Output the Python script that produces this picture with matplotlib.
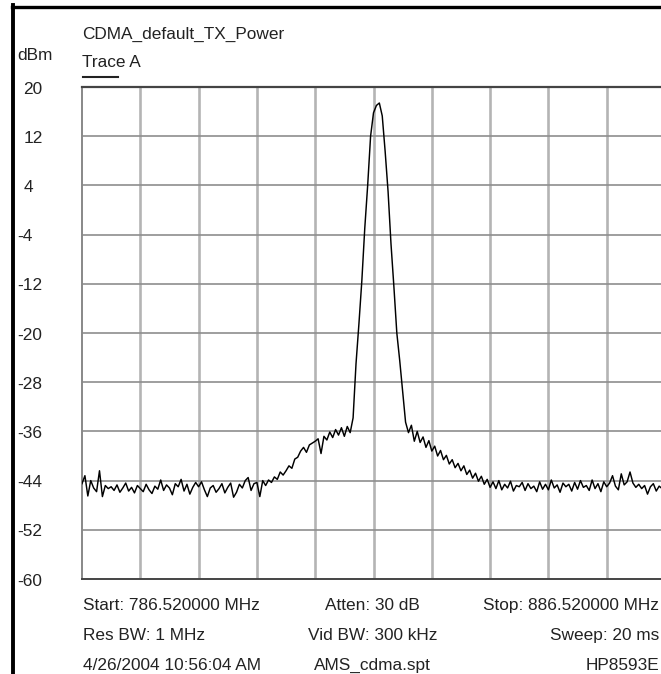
import numpy as np
import matplotlib
matplotlib.use("Agg")
import matplotlib.pyplot as plt
from matplotlib import transforms
from matplotlib.lines import Line2D

plt.rcParams['font.family'] = ['Liberation Sans', 'DejaVu Sans']

# sweep settings
start_mhz = 786.52
stop_mhz = 886.52
y_ticks = [20, 12, 4, -4, -12, -20, -28, -36, -44, -52, -60]

# trace A, dBm (evenly spaced sweep points)
trace_dbm = [
    -44.5, -43.2, -46.5, -44.0, -45.2, -45.8, -42.4, -46.6, -44.8, -45.3,
    -45.0, -45.6, -44.7, -45.9, -45.2, -44.4, -45.7, -45.1, -46.0, -44.8,
    -45.3, -45.8, -44.6, -45.5, -46.1, -44.9, -45.4, -43.9, -45.6, -44.7,
    -45.2, -46.3, -44.5, -45.0, -43.8, -45.7, -44.6, -46.2, -45.1, -44.3,
    -45.0, -44.2, -45.5, -46.6, -45.2, -44.8, -45.9, -45.3, -44.5, -46.0,
    -45.1, -44.4, -46.7, -45.9, -44.6, -45.2, -44.0, -43.5, -45.6, -44.5,
    -44.3, -46.6, -44.0, -44.8, -43.9, -44.3, -43.4, -43.8, -42.6, -43.1,
    -42.4, -41.6, -42.0, -40.5, -40.2, -39.2, -38.6, -39.4, -38.2, -37.9,
    -37.6, -37.2, -39.6, -36.8, -37.4, -36.1, -37.0, -35.7, -36.6, -35.4,
    -36.8, -35.2, -36.2, -33.8, -25.0, -18.5, -11.5, -3.0, 4.0, 12.0,
    15.8, 17.0, 17.4, 15.3, 9.5, 3.0, -5.5, -12.5, -20.0, -24.5,
    -29.5, -34.5, -36.2, -35.0, -37.6, -36.0, -37.8, -36.9, -38.6, -37.5,
    -39.2, -38.4, -40.0, -39.1, -40.6, -39.9, -41.3, -40.6, -41.9, -41.2,
    -42.4, -41.6, -43.0, -42.3, -43.6, -42.8, -44.1, -43.3, -44.6, -43.8,
    -45.1, -44.2, -45.3, -44.0, -45.5, -44.6, -45.2, -44.1, -45.7, -44.8,
    -45.0, -44.3, -45.6, -44.5, -45.3, -44.9, -45.8, -44.2, -45.4, -44.6,
    -45.5, -43.9, -45.2, -44.7, -45.9, -44.4, -45.0, -44.6, -45.7, -44.3,
    -45.4, -44.0, -45.1, -44.8, -45.6, -43.9, -45.3, -44.5, -45.8, -44.2,
    -45.0, -44.4, -43.2, -44.9, -45.5, -42.9, -44.7, -44.2, -42.6, -44.4,
    -45.1, -44.6, -45.3, -44.8, -46.2, -45.0, -44.5, -45.7, -44.9, -45.3,
    -44.7,
]

title = "CDMA_default_TX_Power"
trace_name = "Trace A"
unit = "dBm"
footer_left = ["Start: 786.520000 MHz", "Res BW: 1 MHz", "4/26/2004 10:56:04 AM"]
footer_mid = ["Atten: 30 dB", "Vid BW: 300 kHz", "AMS_cdma.spt"]
footer_right = ["Stop: 886.520000 MHz", "Sweep: 20 ms", "HP8593E"]

W, H = 661, 674
fig = plt.figure(figsize=(W / 100, H / 100), dpi=100)

def fx(px):
    return px / W

def fy(px):
    return 1 - px / H

# plot area
ax = fig.add_axes([fx(82), fy(579), fx(583), (579 - 87) / H])
freqs = np.linspace(start_mhz, stop_mhz, len(trace_dbm))
ax.plot(freqs, trace_dbm, color='black', lw=1.05, zorder=3)
ax.set_xlim(start_mhz, stop_mhz)
ax.set_ylim(-60, 20)

ax.set_xticks(np.linspace(start_mhz, stop_mhz, 11))
ax.set_yticks(y_ticks)
ax.tick_params(length=0, labelleft=False, labelbottom=False)
ax.grid(False)
for xv in ax.get_xticks()[1:-1]:
    ax.axvline(xv, color='#b4b4b4', lw=1.9, zorder=1)
for yv in y_ticks[1:-1]:
    ax.axhline(yv, color='#8e8e8e', lw=1.2, zorder=1)

ax.spines['right'].set_visible(False)
ax.spines['top'].set_color('#444444')
ax.spines['top'].set_linewidth(1.6)
ax.spines['bottom'].set_color('#444444')
ax.spines['bottom'].set_linewidth(1.4)
ax.spines['left'].set_color('#888888')
ax.spines['left'].set_linewidth(1.4)

fs = 12.4

# y labels, digits line up after a sign slot
lab_tr = transforms.blended_transform_factory(fig.transFigure, ax.transData) + \
    transforms.ScaledTranslation(0, -6.5 / 100, fig.dpi_scale_trans)
for v in y_ticks:
    xpx = 17 if v < 0 else 23.5
    ax.text(fx(xpx), v, str(v), transform=lab_tr, ha='left', va='baseline',
            fontsize=fs, color='#222222', clip_on=False)

# header texts
fig.text(fx(82), fy(38.5), title, ha='left', va='baseline', fontsize=fs, color='#222222')
fig.text(fx(82), fy(67), trace_name, ha='left', va='baseline', fontsize=fs, color='#222222')
fig.text(fx(17), fy(60), unit, ha='left', va='baseline', fontsize=fs, color='#222222')
fig.add_artist(Line2D([fx(83), fx(118)], [fy(77), fy(77)], color='#222222', lw=1.5))

# footer texts
for row, base in enumerate([610, 640, 670]):
    fig.text(fx(83), fy(base), footer_left[row], ha='left', va='baseline', fontsize=fs, color='#222222')
    fig.text(fx(372.5), fy(base), footer_mid[row], ha='center', va='baseline', fontsize=fs, color='#222222')
    fig.text(fx(659), fy(base), footer_right[row], ha='right', va='baseline', fontsize=fs, color='#222222')

# black outer frame (left and top)
fig.add_artist(Line2D([fx(13.5), fx(13.5)], [fy(5), 0], color='black', lw=2.8))
fig.add_artist(Line2D([fx(12), 1], [fy(6.5), fy(6.5)], color='black', lw=2.4))

fig.savefig("out.png", dpi=100)
